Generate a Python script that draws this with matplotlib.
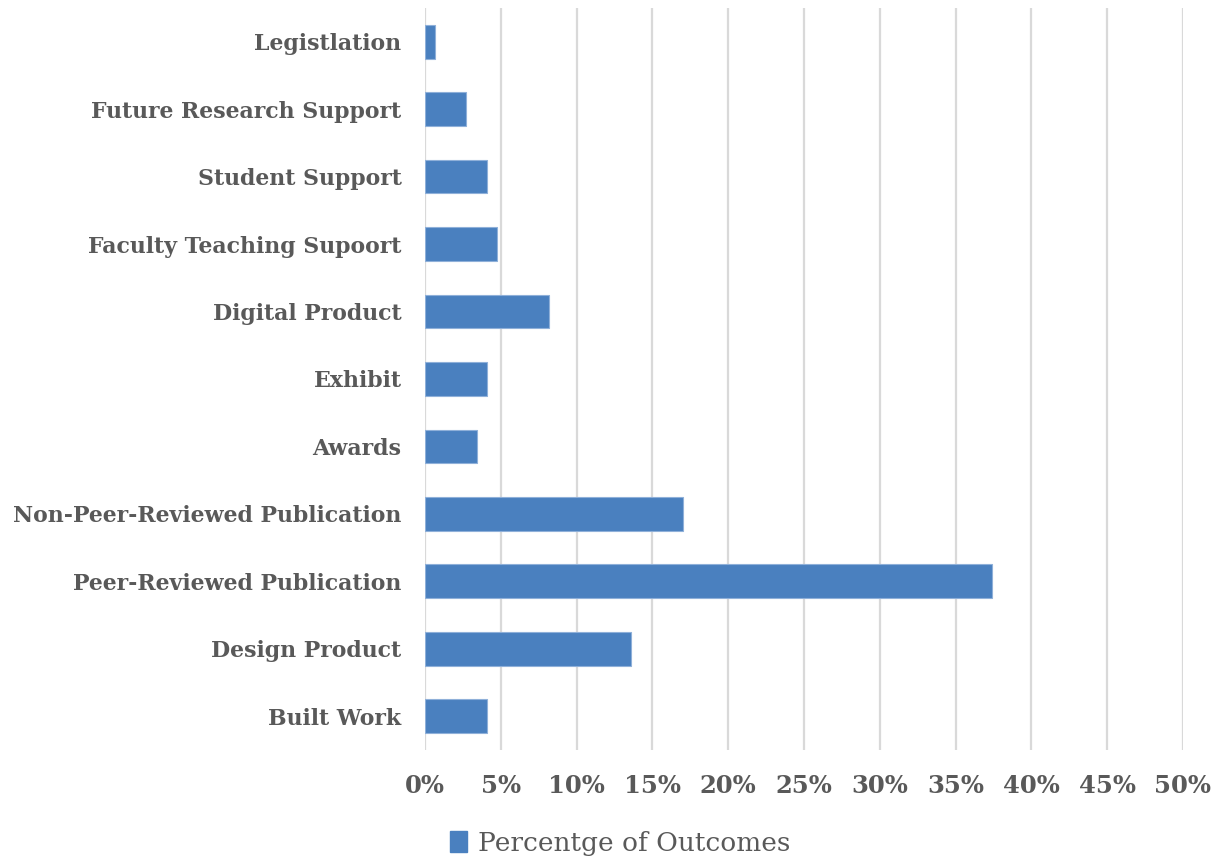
import matplotlib.pyplot as plt
from matplotlib.ticker import FuncFormatter
from matplotlib.patches import Patch

# categories listed bottom to top, as drawn on the y axis
categories = ["Built Work", "Design Product", "Peer-Reviewed Publication",
              "Non-Peer-Reviewed Publication", "Awards", "Exhibit",
              "Digital Product", "Faculty Teaching Supoort", "Student Support",
              "Future Research Support", "Legistlation"]
outcome_pct = [4.08, 13.61, 37.41, 17.01, 3.40, 4.08, 8.16, 4.76, 4.08, 2.72, 0.68]
x_ticks = [0, 5, 10, 15, 20, 25, 30, 35, 40, 45, 50]

bar_color = "#4a80bf"
text_color = "#595959"
grid_color = "#d9d9d9"

fig = plt.figure(figsize=(12.26, 8.59), dpi=100)
ax = fig.add_axes([0.3467, 0.1269, 0.6182, 0.8638])

ax.barh(range(len(categories)), outcome_pct, height=0.5, color=bar_color,
        edgecolor="#8fb0d9", linewidth=0.8, zorder=3)

ax.set_xlim(0, 50)
ax.set_ylim(-0.5, len(categories) - 0.5)
ax.set_xticks(x_ticks)
ax.xaxis.set_major_formatter(FuncFormatter(lambda v, p: f"{v:.0f}%"))
ax.set_yticks(range(len(categories)))
ax.set_yticklabels(categories)

ax.grid(axis="x", color=grid_color, linewidth=1.6, zorder=0)
for s in ax.spines.values():
    s.set_visible(False)
ax.tick_params(axis="both", length=0)
ax.tick_params(axis="y", pad=17)
ax.tick_params(axis="x", pad=17)

for lbl in ax.get_yticklabels():
    lbl.set_fontsize(15.8)
for lbl in ax.get_xticklabels():
    lbl.set_fontsize(17.5)
for lbl in ax.get_yticklabels() + ax.get_xticklabels():
    lbl.set_fontfamily("DejaVu Serif")
    lbl.set_fontweight("bold")
    lbl.set_color(text_color)

leg = fig.legend(handles=[Patch(color=bar_color, label="Percentge of Outcomes")],
                 loc="center", bbox_to_anchor=(0.506, 0.018), frameon=False,
                 prop={"family": "DejaVu Serif", "size": 19},
                 handlelength=0.65, handleheight=0.85, handletextpad=0.4)
for t in leg.get_texts():
    t.set_color(text_color)

fig.savefig("out.png", dpi=100)
